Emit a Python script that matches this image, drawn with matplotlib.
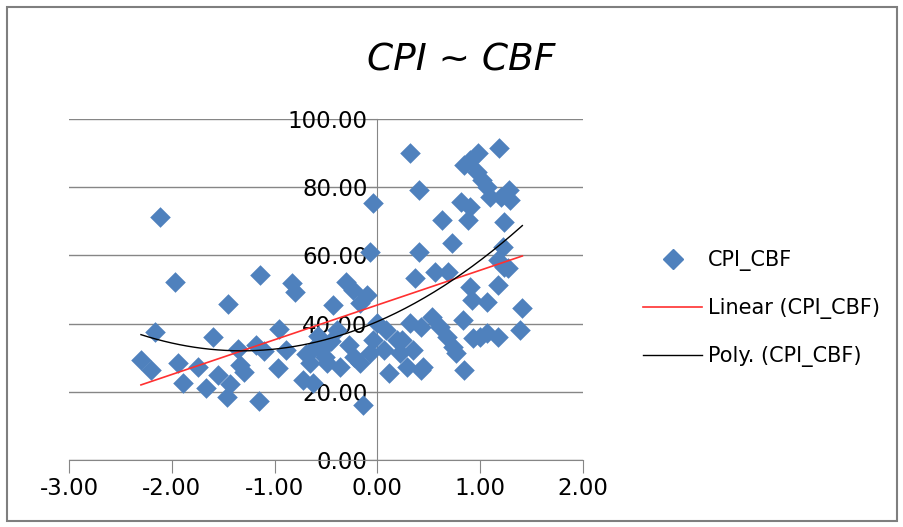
import numpy as np
import matplotlib
matplotlib.use('Agg')
import matplotlib.pyplot as plt
from matplotlib.lines import Line2D
from matplotlib.patches import Rectangle

# CBF (x) and CPI (y) values
cbf = [-2.30, -2.20, -2.16, -2.11, -1.97, -1.94, -1.89, -1.75, -1.67, -1.60,
       -1.55, -1.45, -1.46, -1.43, -1.36, -1.34, -1.30, -1.14, -1.18, -1.15,
       -1.10, -0.96, -0.97, -0.83, -0.80, -0.89, -0.69, -0.72, -0.63, -0.62,
       -0.55, -0.51, -0.49, -0.43, -0.39, -0.36, -0.31, -0.24, -0.28, -0.23,
       -0.17, -0.17, -0.10, -0.14, -0.07, -0.04, -0.07, -0.04, 0.00, 0.08,
       0.11, 0.06, 0.19, 0.24, 0.22, 0.29, 0.32, 0.35, 0.42, 0.44,
       0.32, 0.40, 0.40, 0.37, 0.42, 0.53, 0.56, 0.61, 0.63, 0.69,
       0.68, 0.73, 0.74, 0.76, 0.84, 0.83, 0.81, 0.88, 0.90, 0.90,
       0.92, 0.84, 0.90, 0.98, 0.97, 1.02, 1.07, 1.10, 1.20, 1.28,
       1.29, 1.18, 1.23, 1.22, 1.17, 1.23, 1.17, 1.07, 1.27, 0.93,
       1.00, 1.07, 1.17, 1.39, 1.41, -0.58, -0.45, -0.66]
cpi = [29.3, 26.4, 37.5, 71.3, 52.2, 28.4, 22.6, 27.3, 21.1, 36.1,
       24.9, 45.7, 18.5, 22.3, 32.6, 27.9, 25.8, 54.3, 33.7, 17.3,
       32.0, 38.4, 27.0, 51.9, 49.3, 32.3, 31.1, 23.5, 22.6, 32.8,
       32.3, 30.2, 28.4, 45.5, 38.1, 27.3, 52.2, 49.9, 33.7, 30.2,
       46.0, 28.4, 48.4, 16.1, 61.0, 75.4, 31.4, 35.2, 40.2, 38.1,
       25.5, 32.3, 35.2, 35.2, 31.4, 27.3, 40.2, 32.3, 26.4, 27.3,
       90.0, 79.2, 61.0, 53.4, 39.0, 41.9, 55.1, 39.0, 70.4, 55.1,
       36.1, 63.6, 33.1, 31.4, 26.4, 41.1, 75.7, 70.4, 74.2, 50.7,
       46.9, 86.5, 88.0, 90.0, 84.5, 82.1, 80.1, 77.1, 77.1, 79.2,
       76.2, 91.5, 69.8, 62.5, 58.7, 56.6, 51.3, 46.3, 56.3, 35.8,
       36.1, 37.2, 36.1, 38.1, 44.6, 36.5, 35.0, 28.5]

x_ticks = [-3, -2, -1, 0, 1, 2]
y_ticks = [0, 20, 40, 60, 80, 100]

x = np.array(cbf)
y = np.array(cpi)

fig = plt.figure(figsize=(9.04, 5.27), dpi=100)
ax = fig.add_axes([69 / 904, 1 - 460 / 527, 514 / 904, 341 / 527])

grey = '#868686'
ax.scatter(x, y, marker='D', s=110, color='#4F81BD', linewidths=0, zorder=3)

# trendlines fitted the way Excel does
xs = np.linspace(x.min(), x.max(), 200)
lin = np.polyfit(x, y, 1)
poly = np.polyfit(x, y, 2)
ax.plot(xs, np.polyval(lin, xs), color='#FF3030', lw=1.2, zorder=4)
ax.plot(xs, np.polyval(poly, xs), color='black', lw=1.0, zorder=4)

ax.set_xlim(-3, 2)
ax.set_ylim(0, 100)
ax.set_xticks(x_ticks)
ax.set_yticks(y_ticks)
ax.set_xticklabels([f'{v:.2f}' for v in x_ticks])
ax.set_yticklabels([f'{v:.2f}' for v in y_ticks])

ax.spines['left'].set_position(('data', 0))
ax.spines['top'].set_visible(False)
ax.spines['right'].set_visible(False)
for s in ('left', 'bottom'):
    ax.spines[s].set_color(grey)
    ax.spines[s].set_zorder(2)
ax.yaxis.grid(True, color=grey, lw=1.0, zorder=1)
ax.set_axisbelow(True)
ax.tick_params(axis='x', direction='out', length=9, color=grey, labelsize=16.5, pad=3)
ax.tick_params(axis='y', direction='out', length=6, color=grey, labelsize=16.5, pad=1)
for lab in ax.get_yticklabels():
    lab.set_zorder(5)

fig.text(0.51, 0.885, 'CPI ~ CBF', fontsize=27, style='italic',
         ha='center', va='center')

handles = [
    Line2D([], [], marker='D', color='#4F81BD', ls='none', markersize=10),
    Line2D([], [], color='#FF3030', lw=1.2),
    Line2D([], [], color='black', lw=1.0),
]
labels = ['CPI_CBF', 'Linear (CPI_CBF)', 'Poly. (CPI_CBF)']
fig.legend(handles, labels, loc='center left', bbox_to_anchor=(0.691, 0.414),
           frameon=False, fontsize=15, handlelength=2.8, labelspacing=1.3,
           handletextpad=0.3)

fig.patches.append(Rectangle((7 / 904, 1 - 521 / 527), 890 / 904, 514 / 527,
                             transform=fig.transFigure, fill=False,
                             edgecolor='#7F7F7F', lw=1.5))

fig.savefig('out.png', dpi=100)
